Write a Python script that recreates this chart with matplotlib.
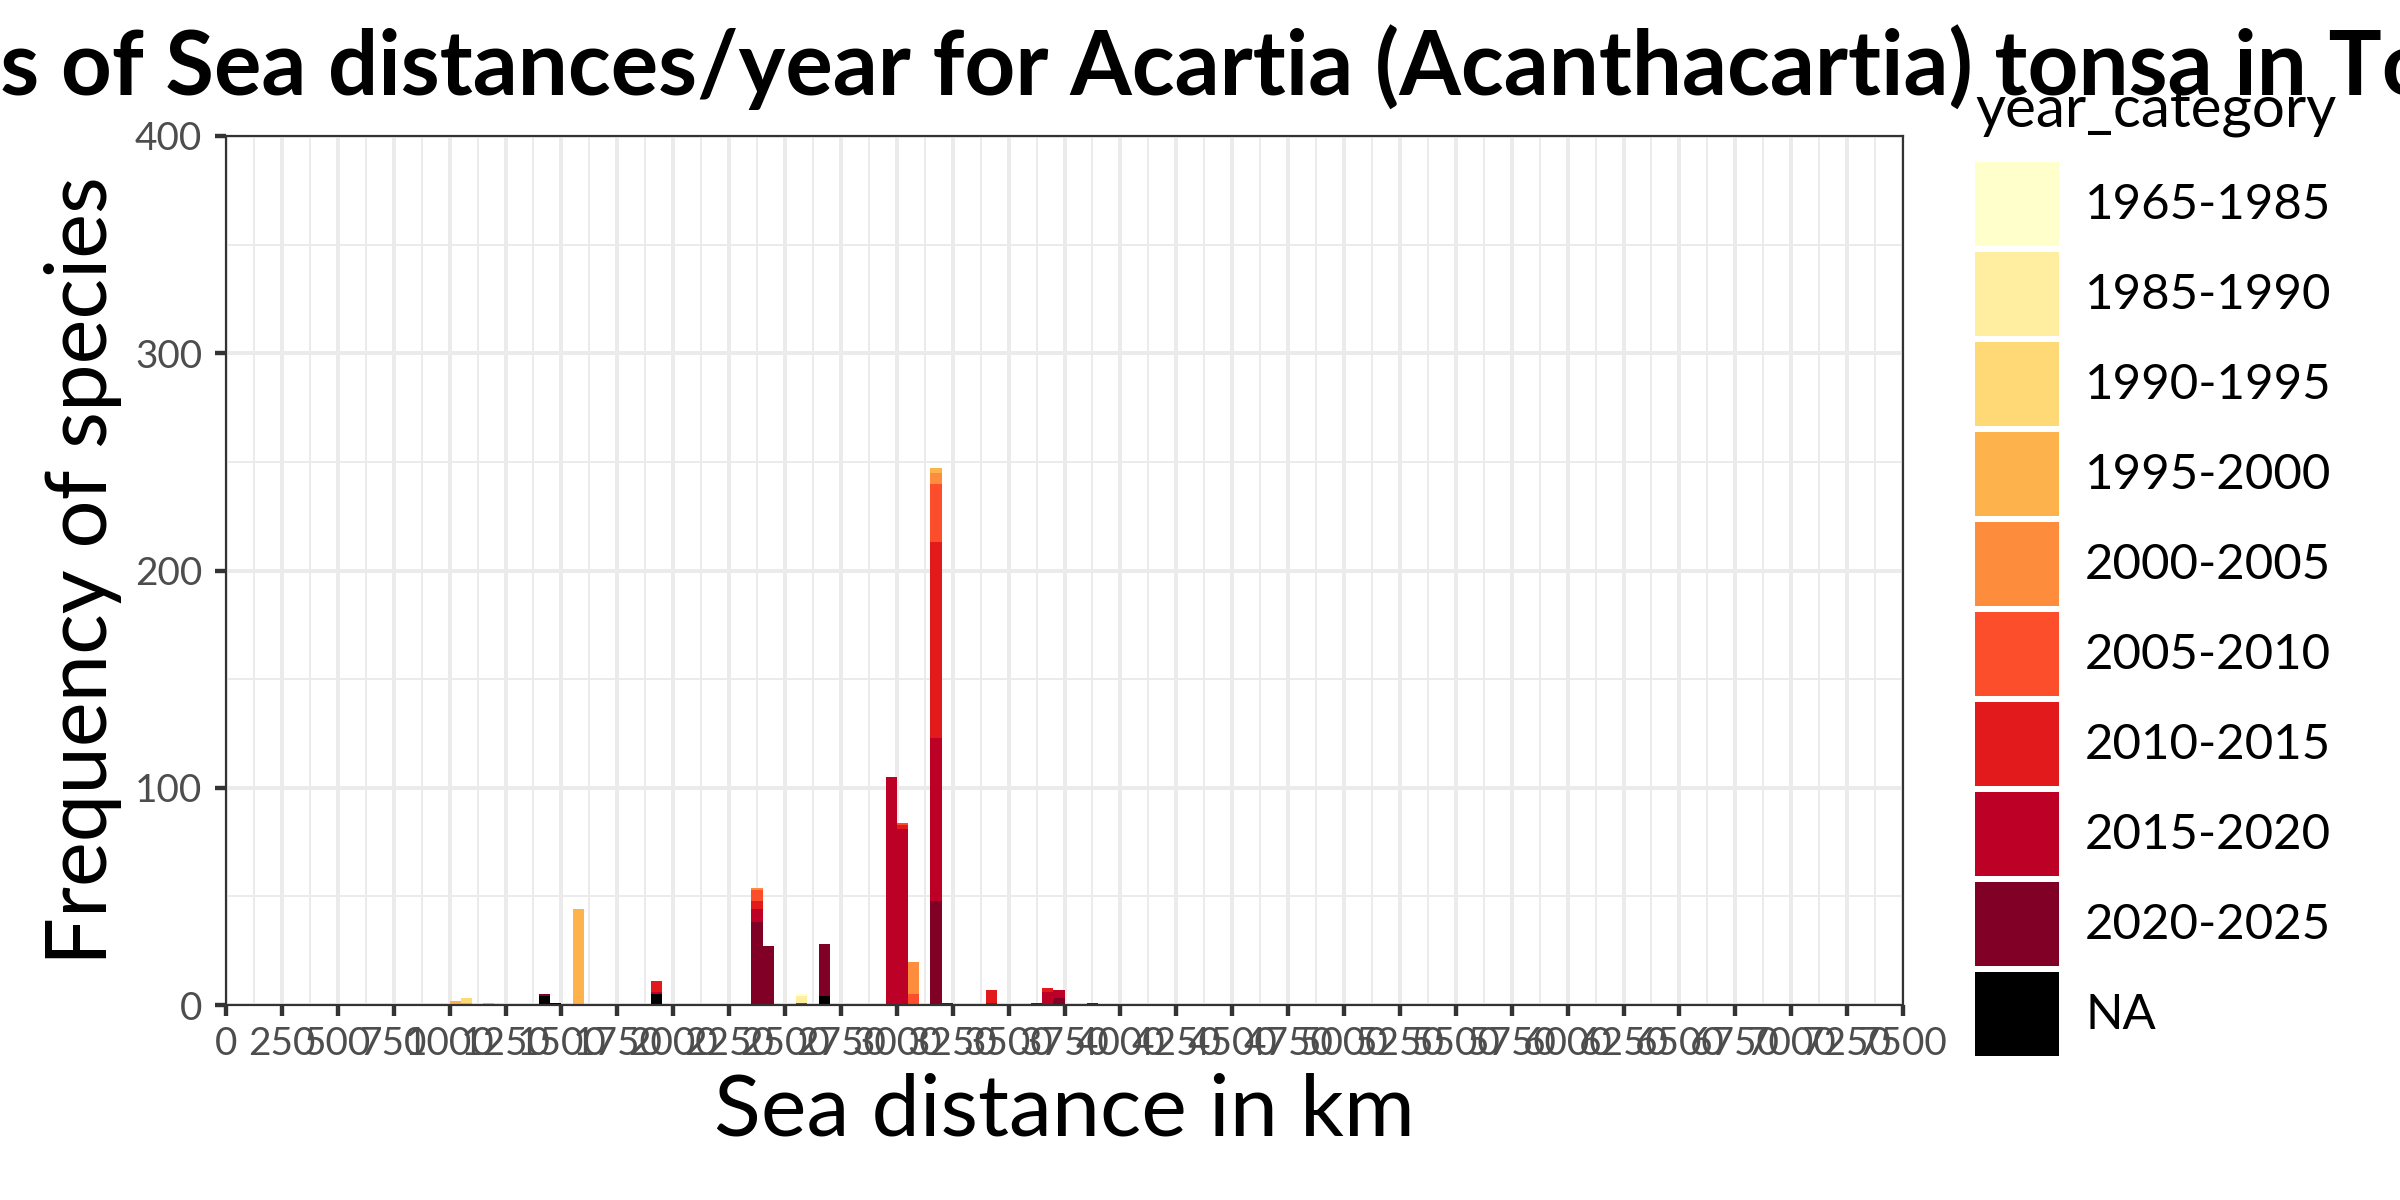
import matplotlib
matplotlib.use("Agg")
import matplotlib.pyplot as plt
import numpy as np
from matplotlib.patches import Patch
from matplotlib.ticker import MultipleLocator

plt.rcParams["font.family"] = ["Lato", "DejaVu Sans"]

TITLE = "Histograms of Sea distances/year for Acartia (Acanthacartia) tonsa in Total"
X_LABEL = "Sea distance in km"
Y_LABEL = "Frequency of species"
LEGEND_TITLE = "year_category"

BIN_WIDTH = 50
bin_starts = [1000, 1050, 1150, 1400, 1450, 1550, 1900, 2350, 2400, 2550, 2650,
              2950, 3000, 3050, 3150, 3200, 3400, 3600, 3650, 3700, 3850]

year_categories = ["1965-1985", "1985-1990", "1990-1995", "1995-2000", "2000-2005",
                   "2005-2010", "2010-2015", "2015-2020", "2020-2025", "NA"]
category_colors = ["#FFFFCC", "#FFEDA0", "#FED976", "#FEB24C", "#FD8D3C",
                   "#FC4E2A", "#E31A1C", "#BD0026", "#800026", "#000000"]

# counts per bin (same order as bin_starts)
counts_1965_1985 = [0, 0, 0, 0, 0, 0, 0, 0, 0, 1, 0, 0, 0, 0, 0, 0, 0, 0, 0, 0, 0]
counts_1985_1990 = [0, 0, 0, 0, 0, 0, 0, 0, 0, 3, 0, 0, 0, 0, 0, 0, 0, 0, 0, 0, 0]
counts_1990_1995 = [0, 2, 0, 0, 0, 0, 0, 0, 0, 0, 0, 0, 0, 0, 0, 0, 0, 0, 0, 0, 0]
counts_1995_2000 = [2, 1, 1, 0, 0, 44, 0, 0, 0, 0, 0, 0, 0, 0, 2, 0, 0, 0, 0, 0, 0]
counts_2000_2005 = [0, 0, 0, 0, 0, 0, 0, 1, 0, 0, 0, 0, 0, 15, 5, 0, 0, 0, 0, 0, 0]
counts_2005_2010 = [0, 0, 0, 0, 0, 0, 0, 5, 0, 0, 0, 0, 1, 5, 27, 0, 0, 0, 0, 0, 0]
counts_2010_2015 = [0, 0, 0, 0, 0, 0, 5, 4, 0, 1, 0, 0, 2, 0, 90, 0, 6, 0, 2, 0, 0]
counts_2015_2020 = [0, 0, 0, 0, 0, 0, 1, 6, 0, 0, 0, 105, 81, 0, 75, 0, 1, 0, 6, 4, 0]
counts_2020_2025 = [0, 0, 0, 1, 0, 0, 0, 38, 27, 0, 24, 0, 0, 0, 48, 1, 0, 1, 0, 3, 1]
counts_na = [0, 0, 0, 4, 1, 0, 5, 0, 0, 0, 4, 0, 0, 0, 0, 0, 0, 0, 0, 0, 0]

category_counts = [counts_1965_1985, counts_1985_1990, counts_1990_1995, counts_1995_2000,
                   counts_2000_2005, counts_2005_2010, counts_2010_2015, counts_2015_2020,
                   counts_2020_2025, counts_na]

W, H, DPI = 2400, 1200, 300
PX = 72 / DPI  # points per pixel

fig = plt.figure(figsize=(W / DPI, H / DPI), dpi=DPI)
ax = fig.add_axes([226 / W, 1 - 1005 / H, (1903 - 226) / W, (1005 - 136) / H])

# stacked like ggplot: last level (NA) at the bottom
bottom = np.zeros(len(bin_starts))
for name, color, counts in reversed(list(zip(year_categories, category_colors, category_counts))):
    ax.bar(bin_starts, counts, width=BIN_WIDTH, bottom=bottom, align="edge",
           color=color, edgecolor="none", linewidth=0, zorder=3)
    bottom += np.array(counts)

ax.set_xlim(0, 7500)
ax.set_ylim(0, 400)
ax.xaxis.set_major_locator(MultipleLocator(250))
ax.xaxis.set_minor_locator(MultipleLocator(125))
ax.yaxis.set_major_locator(MultipleLocator(100))
ax.yaxis.set_minor_locator(MultipleLocator(50))
ax.grid(which="major", color="#EBEBEB", linewidth=4 * PX, zorder=0)
ax.grid(which="minor", color="#EBEBEB", linewidth=2 * PX, zorder=0)
ax.set_axisbelow(True)
for sp in ax.spines.values():
    sp.set_color("#333333")
    sp.set_linewidth(2.2 * PX)
    sp.set_zorder(4)
ax.tick_params(which="major", length=11 * PX, width=4.4 * PX, color="#333333",
               labelcolor="#4D4D4D", labelsize=9.3)
ax.tick_params(axis="y", pad=3.1)
ax.tick_params(axis="x", pad=2.4)
ax.tick_params(which="minor", length=0)

fig.text(1064.5 / W, 1 - 1136 / H, X_LABEL, fontsize=20.7, ha="center", va="baseline")
fig.text(107 / W, 1 - 570.5 / H, Y_LABEL, fontsize=20.4, rotation=90, rotation_mode="anchor",
         ha="center", va="baseline")

# title: sized so the visible part spans the figure, left part cut off like the original
renderer = fig.canvas.get_renderer()
probe = fig.text(0, 0, "s of Sea distances/year for Acartia (Acanthacartia) tonsa in T",
                 fontsize=20, fontweight="bold")
title_fs = 20 * 2380 / probe.get_window_extent(renderer).width
probe.set_text("Histogram")
probe.set_fontsize(title_fs)
lead = probe.get_window_extent(renderer).width
probe.remove()
fig.text(-lead / W, 1 - 95 / H, TITLE, fontsize=title_fs, fontweight="bold",
         ha="left", va="baseline")

# legend
leg_fs = 11.8
fs_px = leg_fs / PX
key_px = 84
hh = (key_px / fs_px - 0.245) / 0.65
handles = [Patch(facecolor=c, edgecolor="none") for c in category_colors]
fig.legend(handles, year_categories, loc="upper left",
           bbox_to_anchor=(1975 / W, 1 - 162 / H), frameon=False, fontsize=leg_fs,
           borderpad=0, borderaxespad=0, handlelength=key_px / fs_px, handleheight=hh,
           labelspacing=6 / fs_px, handletextpad=26 / fs_px)
fig.text(1975 / W, 1 - 128 / H, LEGEND_TITLE, fontsize=14, ha="left", va="baseline")

fig.savefig("out.png", dpi=DPI)
